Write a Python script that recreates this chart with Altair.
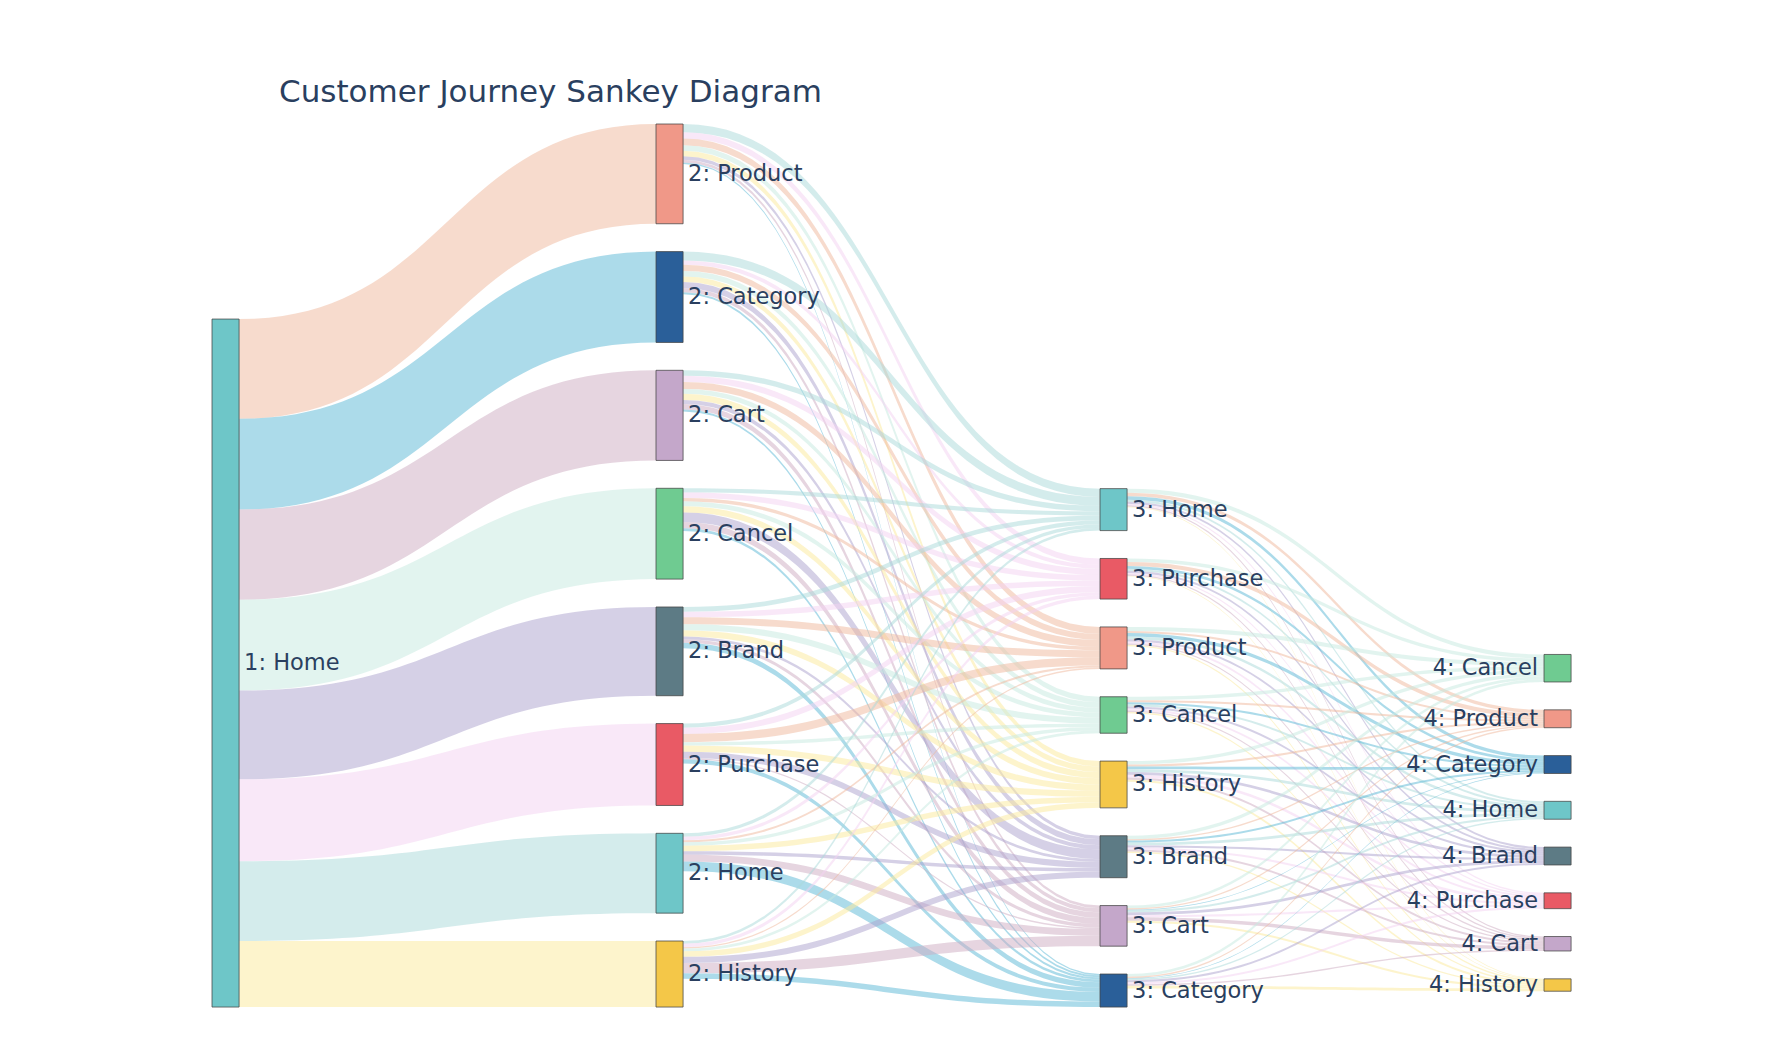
import numpy as np
import pandas as pd
import altair as alt

alt.data_transformers.disable_max_rows()

TITLE = "Customer Journey Sankey Diagram"

# pages visited at each step of the journey (top-to-bottom order)
stage1_nodes = ["Home"]
stage2_nodes = ["Product", "Category", "Cart", "Cancel", "Brand", "Purchase", "Home", "History"]
stage3_nodes = ["Home", "Purchase", "Product", "Cancel", "History", "Brand", "Cart", "Category"]
stage4_nodes = ["Cancel", "Product", "Category", "Home", "Brand", "Purchase", "Cart", "History"]

# sessions step 1 -> step 2 (row: step-1 page, column: step-2 page)
flows_1_2 = [[145, 132, 131, 132, 129, 119, 116, 96]]

# sessions step 2 -> step 3 (row: stage2_nodes, column: stage3_nodes)
flows_2_3 = [
    [12, 9, 10, 8, 8, 5, 4, 2],
    [13, 6, 9, 8, 8, 9, 6, 3],
    [8, 9, 10, 7, 9, 6, 8, 3],
    [6, 8, 5, 7, 9, 14, 9, 4],
    [7, 8, 10, 9, 9, 4, 5, 8],
    [6, 9, 12, 5, 9, 9, 2, 6],
    [5, 5, 3, 5, 8, 5, 10, 14],
    [4, 5, 2, 4, 8, 9, 15, 8],
]

# sessions step 3 -> step 4 (row: stage3_nodes, column: stage4_nodes)
flows_3_4 = [
    [6, 5, 5, 3, 3, 2, 2, 1],
    [5, 6, 4, 3, 3, 2, 2, 1],
    [6, 3, 5, 4, 3, 3, 2, 2],
    [5, 3, 3, 3, 3, 3, 2, 2],
    [5, 3, 4, 4, 4, 4, 3, 3],
    [5, 2, 3, 4, 3, 3, 3, 2],
    [4, 2, 1, 3, 4, 3, 5, 3],
    [4, 2, 1, 2, 3, 3, 2, 4],
]

NODE_COLORS = {
    "Home": "#6ec6c8", "Product": "#f09888", "Category": "#2a5f99", "Cart": "#c4a7ca",
    "Cancel": "#6fcb91", "Brand": "#5d7b85", "Purchase": "#e95a65", "History": "#f4c748",
}
LINK_COLORS = {
    "Home": "#a9d9d9", "Product": "#efb79b", "Category": "#59b7d5", "Cart": "#cdabc1",
    "Cancel": "#c5e9df", "Brand": "#aba1cd", "Purchase": "#f3d1f1", "History": "#fbe999",
}
LINK_OPACITY = 0.5
TEXT_COLOR = "#2a3f5f"
FONT = "DejaVu Sans"

# ---- layout parameters ----
NODE_W = 0.061          # node thickness, in step units
PAD = 40.5              # gap between nodes, in session units
BOTTOM_GAP = [0, 0, 0, 23]
W, H = 1760, 1036
X0_PX, DX_PX = 204, 444   # step 0 left edge and step spacing (plot px)
Y0_PX, KY = 116, 0.688    # top of tallest column (plot px), px per session
X_DOMAIN = [(0 - X0_PX) / DX_PX, (W - X0_PX) / DX_PX]
Y_DOMAIN = [(0 - Y0_PX) / KY, (H - Y0_PX) / KY]

stages = [stage1_nodes, stage2_nodes, stage3_nodes, stage4_nodes]
flows = [np.array(f, dtype=float) for f in (flows_1_2, flows_2_3, flows_3_4)]

values = []
for s, names in enumerate(stages):
    n = len(names)
    inflow = flows[s - 1].sum(axis=0) if s > 0 else np.zeros(n)
    outflow = flows[s].sum(axis=1) if s < len(flows) else np.zeros(n)
    values.append(np.maximum(inflow, outflow))

extents = [v.sum() + PAD * (len(v) - 1) for v in values]
ref = max(extents)

node_rows = []
node_y0 = []
for s, names in enumerate(stages):
    y = ref - extents[s] - BOTTOM_GAP[s]
    ys = []
    for i, name in enumerate(names):
        ys.append(y)
        v = values[s][i]
        node_rows.append(dict(x0=s, x1=s + NODE_W, y0=y, y1=y + v, yc=y + v / 2,
                              label=f"{s + 1}: {name}", color=NODE_COLORS[name],
                              last=(s == len(stages) - 1)))
        y += v + PAD
    node_y0.append(ys)
nodes = pd.DataFrame(node_rows)

t = np.linspace(0, 1, 41)
b0 = (1 - t) ** 3 + 3 * (1 - t) ** 2 * t
b1 = 1 - b0
link_rows = []
lid = 0
for s, f in enumerate(flows):
    src_off = list(node_y0[s])
    tgt_off = list(node_y0[s + 1])
    xa, xb = s + NODE_W, s + 1
    xm = (xa + xb) / 2
    xs = xa * (1 - t) ** 3 + xm * 3 * (1 - t) ** 2 * t + xm * 3 * (1 - t) * t ** 2 + xb * t ** 3
    for i in range(f.shape[0]):
        for j in range(f.shape[1]):
            v = f[i, j]
            if v <= 0:
                continue
            ya, yb = src_off[i], tgt_off[j]
            src_off[i] += v
            tgt_off[j] += v
            top = ya * b0 + yb * b1
            col = LINK_COLORS[stages[s + 1][j]]
            for k in range(len(t)):
                link_rows.append(dict(link=lid, x=xs[k], y=top[k], y2=top[k] + v, color=col))
            lid += 1
links = pd.DataFrame(link_rows)

xsc = alt.Scale(domain=X_DOMAIN, nice=False, zero=False)
ysc = alt.Scale(domain=Y_DOMAIN, nice=False, zero=False, reverse=True)

link_layer = alt.Chart(links).mark_area(interpolate="linear", opacity=LINK_OPACITY).encode(
    x=alt.X("x:Q", scale=xsc, axis=None),
    y=alt.Y("y:Q", scale=ysc, axis=None),
    y2="y2:Q",
    detail="link:N",
    color=alt.Color("color:N", scale=None),
)

node_layer = alt.Chart(nodes).mark_rect(stroke="#444444", strokeWidth=1, strokeOpacity=0.75).encode(
    x=alt.X("x0:Q", scale=xsc, axis=None),
    x2="x1:Q",
    y=alt.Y("y0:Q", scale=ysc, axis=None),
    y2="y1:Q",
    color=alt.Color("color:N", scale=None),
)

label_right = alt.Chart(nodes).transform_filter("!datum.last").mark_text(
    align="left", baseline="middle", dx=5, font=FONT, fontSize=22.5, color=TEXT_COLOR
).encode(
    x=alt.X("x1:Q", scale=xsc, axis=None),
    y=alt.Y("yc:Q", scale=ysc, axis=None),
    text="label:N",
)

label_left = alt.Chart(nodes).transform_filter("datum.last").mark_text(
    align="right", baseline="middle", dx=-6, font=FONT, fontSize=22.5, color=TEXT_COLOR
).encode(
    x=alt.X("x0:Q", scale=xsc, axis=None),
    y=alt.Y("yc:Q", scale=ysc, axis=None),
    text="label:N",
)

chart = alt.layer(link_layer, node_layer, label_right, label_left).properties(
    width=W,
    height=H,
    padding=0,
    autosize=alt.AutoSizeParams(type="none"),
    title=alt.TitleParams(
        text=TITLE, anchor="start", frame="group", font=FONT, fontSize=31,
        fontWeight="normal", color=TEXT_COLOR, dx=271, dy=105,
    ),
).configure_view(stroke=None)

chart.save("out.html", embed_options={"renderer": "svg", "actions": False})
